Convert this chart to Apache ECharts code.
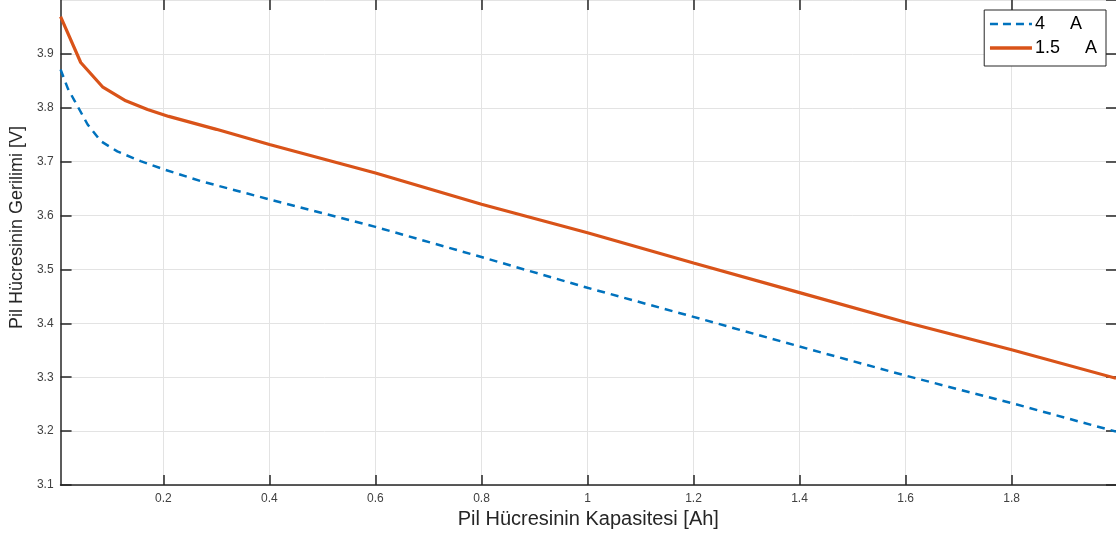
<!DOCTYPE html>
<html><head><meta charset="utf-8">
<script src="https://cdn.jsdelivr.net/npm/echarts@6/dist/echarts.min.js"></script>
<style>html,body{margin:0;padding:0;background:#fff}#c{width:1116px;height:535px}</style>
</head><body><div id="c"></div>
<script>
const xTicks = [0.2, 0.4, 0.6, 0.8, 1, 1.2, 1.4, 1.6, 1.8];
const seriesNames = ['4     A', '1.5     A'];
const cap4 = [0.006, 0.02, 0.033, 0.057, 0.082, 0.113, 0.157, 0.2, 0.27, 0.4, 0.6, 0.8, 1.0, 1.2, 1.4, 1.6, 1.8, 1.997];
const volt4 = [3.871, 3.835, 3.812, 3.769, 3.738, 3.719, 3.701, 3.686, 3.664, 3.630, 3.579, 3.523, 3.466, 3.412, 3.357, 3.303, 3.252, 3.199];
const cap15 = [0.006, 0.044, 0.085, 0.129, 0.17, 0.21, 0.3, 0.4, 0.6, 0.8, 1.0, 1.2, 1.4, 1.6, 1.8, 1.997];
const volt15 = [3.969, 3.884, 3.839, 3.813, 3.797, 3.784, 3.760, 3.732, 3.679, 3.621, 3.568, 3.512, 3.457, 3.402, 3.351, 3.298];

const FONT = 'Liberation Sans, Arial, sans-serif';
const chart = echarts.init(document.getElementById('c'), null, {renderer: 'canvas'});
const pairs = (xs, ys) => xs.map((x, i) => [x, ys[i]]);
const gridLine = {show: true, lineStyle: {color: '#e3e3e3', width: 1}};
const axisLine = {show: true, lineStyle: {color: '#262626', width: 1.5}};
chart.setOption({
  animation: false,
  backgroundColor: '#fff',
  grid: {left: 60, right: 0, top: -2, bottom: 50},
  legend: {
    orient: 'vertical', right: 10, top: 10,
    data: [
      {name: seriesNames[0], lineStyle: {width: 2.5, type: [8, 5]}},
      {name: seriesNames[1], lineStyle: {width: 3.5}}
    ],
    backgroundColor: '#fff', borderColor: '#262626', borderWidth: 1, borderRadius: 0,
    padding: [4, 9, 8, 4], itemGap: 4, itemWidth: 42, itemHeight: 14,
    itemStyle: {opacity: 0},
    textStyle: {fontFamily: FONT, fontSize: 18, lineHeight: 20, color: '#000', padding: [0, 0, 0, -2]}
  },
  xAxis: [{
    type: 'value', min: 0.006, max: 1.997,
    name: 'Pil Hücresinin Kapasitesi [Ah]', nameLocation: 'middle', nameGap: 22,
    nameTextStyle: {fontFamily: FONT, fontSize: 20, color: '#262626'},
    axisLine: axisLine,
    axisTick: {show: true, inside: true, length: 10, customValues: xTicks, lineStyle: {color: '#262626', width: 1.5}},
    axisLabel: {customValues: xTicks, fontFamily: FONT, fontSize: 12, color: '#404040', margin: 8},
    splitLine: gridLine
  }, {
    type: 'value', position: 'top', min: 0.006, max: 1.997,
    axisLine: {show: false},
    axisTick: {show: true, inside: true, length: 10, customValues: xTicks, lineStyle: {color: '#262626', width: 1.5}},
    axisLabel: {show: false, customValues: xTicks},
    splitLine: {show: false}
  }],
  yAxis: [{
    type: 'value', min: 3.1, max: 4.0, interval: 0.1,
    name: 'Pil Hücresinin Gerilimi [V]', nameLocation: 'middle', nameGap: 31,
    nameTextStyle: {fontFamily: FONT, fontSize: 18, color: '#262626', padding: [0, 0, 0, 30]},
    axisLine: axisLine,
    axisTick: {show: true, inside: true, length: 11, lineStyle: {color: '#262626', width: 1.5}},
    axisLabel: {fontFamily: FONT, fontSize: 12, color: '#404040', margin: 7, showMaxLabel: false,
      formatter: v => v.toFixed(1)},
    splitLine: gridLine
  }, {
    type: 'value', position: 'right', min: 3.1, max: 4.0, interval: 0.1,
    axisLine: {show: false},
    axisTick: {show: true, inside: true, length: 10, lineStyle: {color: '#262626', width: 1.5}},
    axisLabel: {show: false},
    splitLine: {show: false}
  }],
  series: [{
    name: seriesNames[0], type: 'line', data: pairs(cap4, volt4),
    symbol: 'none', smooth: false,
    lineStyle: {color: '#0072BD', width: 2.5, type: [8, 6]},
    itemStyle: {color: '#0072BD'}
  }, {
    name: seriesNames[1], type: 'line', data: pairs(cap15, volt15),
    symbol: 'none', smooth: false,
    lineStyle: {color: '#D95319', width: 3.2},
    itemStyle: {color: '#D95319'}
  }]
});
</script></body></html>
